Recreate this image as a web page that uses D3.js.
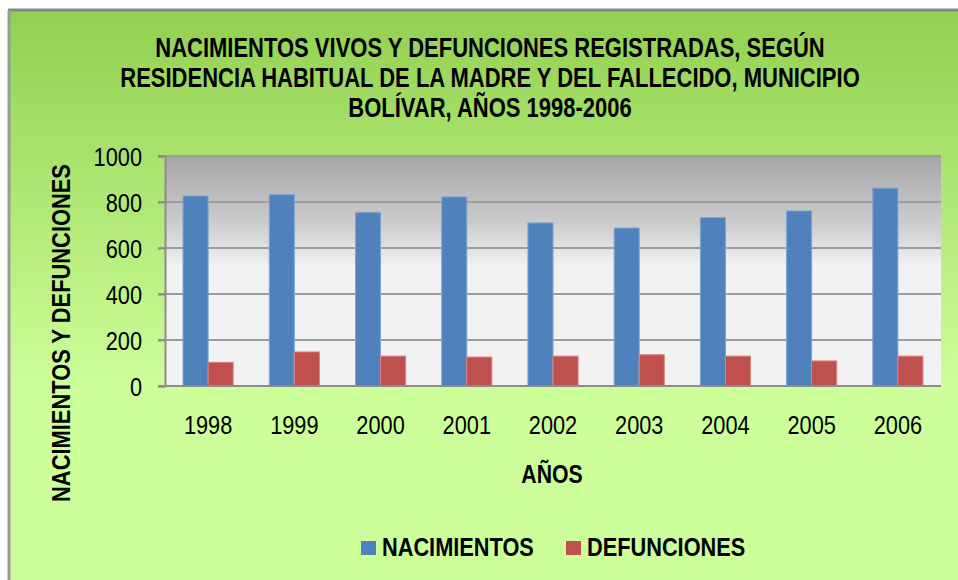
<!DOCTYPE html>
<html>
<head>
<meta charset="utf-8">
<script src="https://d3js.org/d3.v7.min.js"></script>
<style>
  body { margin: 0; background: #fff; }
  text { font-family: "Liberation Sans Narrow", "Arial Narrow", "Liberation Sans", sans-serif; }
</style>
</head>
<body>
<script>
// data
const years = ["1998", "1999", "2000", "2001", "2002", "2003", "2004", "2005", "2006"];
const nacimientos = [826, 832, 755, 822, 709, 687, 732, 761, 860];
const defunciones = [103, 148, 130, 126, 130, 136, 130, 109, 130];
const seriesNames = ["NACIMIENTOS", "DEFUNCIONES"];
const seriesColors = ["#4f81bd", "#c0504d"];
const yTicks = [0, 200, 400, 600, 800, 1000];
const titleLines = [
  "NACIMIENTOS VIVOS Y DEFUNCIONES REGISTRADAS, SEGÚN",
  "RESIDENCIA HABITUAL DE LA MADRE Y DEL FALLECIDO, MUNICIPIO",
  "BOLÍVAR, AÑOS 1998-2006"
];

const W = 958, H = 580;
const plot = {left: 165, right: 941, top: 156, bottom: 386};

// no narrow font installed, so squeeze the text horizontally
function condense(sel, k) {
  sel.each(function() {
    let len = this.getComputedTextLength();
    d3.select(this)
      .attr("textLength", len * k)
      .attr("lengthAdjust", "spacingAndGlyphs");
  });
}

const svg = d3.select("body").append("svg")
  .attr("width", W)
  .attr("height", H);

const defs = svg.append("defs");

let bgGrad = defs.append("linearGradient")
  .attr("id", "bgGrad")
  .attr("x1", 0).attr("y1", 0).attr("x2", 0).attr("y2", 1);
bgGrad.append("stop").attr("offset", "0%").attr("stop-color", "#92d050");
bgGrad.append("stop").attr("offset", "65%").attr("stop-color", "#ccff99");
bgGrad.append("stop").attr("offset", "100%").attr("stop-color", "#ccff99");

let plotGrad = defs.append("linearGradient")
  .attr("id", "plotGrad")
  .attr("x1", 0).attr("y1", 0).attr("x2", 0).attr("y2", 1);
plotGrad.append("stop").attr("offset", "0%").attr("stop-color", "#a6a6a6");
plotGrad.append("stop").attr("offset", "30%").attr("stop-color", "#cdcdcd");
plotGrad.append("stop").attr("offset", "48%").attr("stop-color", "#f2f2f2");
plotGrad.append("stop").attr("offset", "100%").attr("stop-color", "#f2f2f2");

// chart area with frame on top and left
svg.append("rect")
  .attr("x", 9).attr("y", 10)
  .attr("width", W).attr("height", H)
  .attr("fill", "url(#bgGrad)");
svg.append("line")
  .attr("x1", 8).attr("y1", 10).attr("x2", W).attr("y2", 10)
  .attr("stroke", "#868686").attr("stroke-width", 3);
svg.append("line")
  .attr("x1", 9).attr("y1", 10).attr("x2", 9).attr("y2", H)
  .attr("stroke", "#9a9a9a").attr("stroke-width", 3);

// title, one text per line, squeezed with a scale
svg.append("g")
  .attr("transform", "translate(490,0) scale(0.815,1)")
  .selectAll("text")
  .data(titleLines)
  .join("text")
    .attr("x", 0)
    .attr("y", (d, i) => 57 + i * 30)
    .attr("text-anchor", "middle")
    .attr("font-size", 27)
    .attr("font-weight", "bold")
    .attr("fill", "#000")
    .text(d => d);

let x0 = d3.scaleBand()
  .domain(years)
  .range([plot.left, plot.right])
  .padding(0);

let x1 = d3.scaleBand()
  .domain(seriesNames)
  .range([0, x0.bandwidth()])
  .paddingInner(0)
  .paddingOuter(0.72);

let y = d3.scaleLinear()
  .domain([0, 1000])
  .range([plot.bottom, plot.top]);

let color = d3.scaleOrdinal()
  .domain(seriesNames)
  .range(seriesColors);

// plot area
svg.append("rect")
  .attr("x", plot.left).attr("y", plot.top)
  .attr("width", plot.right - plot.left)
  .attr("height", plot.bottom - plot.top)
  .attr("fill", "url(#plotGrad)");

// gridlines
svg.append("g")
  .selectAll("line")
  .data(yTicks.filter(t => t > 0))
  .join("line")
    .attr("x1", plot.left - 7).attr("x2", plot.right)
    .attr("y1", d => y(d)).attr("y2", d => y(d))
    .attr("stroke", "#9c9c9c").attr("stroke-width", 2);

// y axis
let yAxis = svg.append("g")
  .attr("transform", `translate(${plot.left},0)`)
  .call(d3.axisLeft(y).tickValues(yTicks).tickFormat(d3.format("d")).tickSize(7).tickPadding(16));
yAxis.select(".domain").attr("stroke", "#8c8c8c").attr("stroke-width", 2);
yAxis.selectAll(".tick line").attr("stroke", "#8c8c8c").attr("stroke-width", 2);
yAxis.selectAll(".tick text")
  .attr("font-size", 25)
  .attr("fill", "#000")
  .attr("font-family", null)
  .attr("dy", "0.36em")
  .call(condense, 0.87);

// bars
let groups = svg.append("g")
  .selectAll("g")
  .data(years.map((yr, i) => ({year: yr, values: [nacimientos[i], defunciones[i]]})))
  .join("g")
    .attr("transform", d => `translate(${x0(d.year)},0)`);

groups.selectAll("rect")
  .data(d => d.values.map((v, j) => ({key: seriesNames[j], value: v})))
  .join("rect")
    .attr("x", d => x1(d.key))
    .attr("y", d => y(d.value))
    .attr("width", x1.bandwidth())
    .attr("height", d => y(0) - y(d.value))
    .attr("fill", d => color(d.key))
    .attr("stroke", d => d.key === "NACIMIENTOS" ? "#7fa3d2" : "#d98582")
    .attr("stroke-width", 1);

// x axis
let xAxis = svg.append("g")
  .attr("transform", `translate(0,${plot.bottom})`)
  .call(d3.axisBottom(x0).tickSize(0).tickPadding(30));
xAxis.select(".domain")
  .attr("d", `M${plot.left - 7},0H${plot.right}`)
  .attr("stroke", "#8c8c8c").attr("stroke-width", 2);
xAxis.selectAll(".tick text")
  .attr("font-size", 25)
  .attr("fill", "#000")
  .attr("font-family", null)
  .call(condense, 0.87);

// axis titles
svg.append("text")
  .attr("x", 552).attr("y", 483)
  .attr("text-anchor", "middle")
  .attr("font-size", 25)
  .attr("font-weight", "bold")
  .text("AÑOS")
  .call(condense, 0.85);

svg.append("text")
  .attr("transform", "translate(70,333) rotate(-90)")
  .attr("text-anchor", "middle")
  .attr("font-size", 25)
  .attr("font-weight", "bold")
  .text("NACIMIENTOS Y DEFUNCIONES")
  .call(condense, 0.875);

// legend
let legend = svg.append("g")
  .selectAll("g")
  .data(seriesNames)
  .join("g")
    .attr("transform", (d, i) => `translate(${361 + i * 205},541)`);
legend.append("rect")
  .attr("width", 15).attr("height", 14)
  .attr("fill", d => color(d));
legend.append("text")
  .attr("x", 21).attr("y", 15)
  .attr("font-size", 25)
  .attr("font-weight", "bold")
  .text(d => d)
  .call(condense, 0.87);
</script>
</body>
</html>
